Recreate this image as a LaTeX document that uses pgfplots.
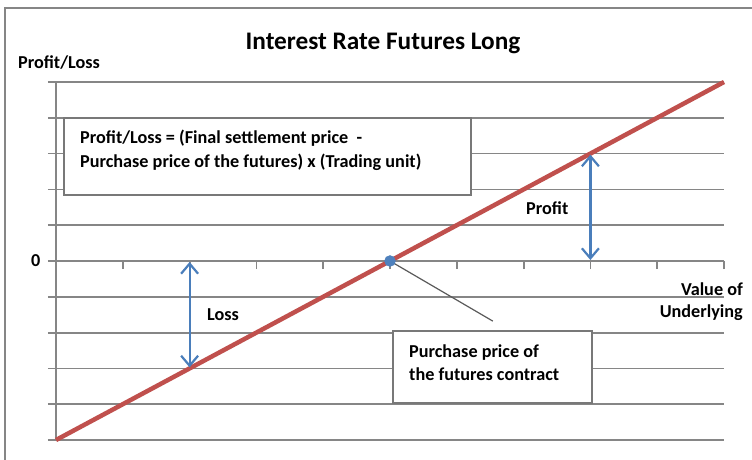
\documentclass[border=0pt]{standalone}
\usepackage{pgfplots}
\pgfplotsset{compat=1.18}
\usepackage{fontspec}
\setmainfont{Carlito}
\usetikzlibrary{arrows.meta}
\definecolor{gridgray}{RGB}{134,134,134}
\definecolor{boxgray}{RGB}{120,120,120}
\definecolor{redline}{RGB}{192,80,77}
\definecolor{bluearrow}{RGB}{74,126,187}
\definecolor{bluedot}{RGB}{79,129,189}
\definecolor{connector}{RGB}{90,90,90}
\newcommand{\bodyfont}{\fontsize{18.2}{21}\selectfont\bfseries}
\begin{document}
\begin{tikzpicture}[x=1pt,y=1pt]
\useasboundingbox (0,0) rectangle (752,459);
\fill[white] (0,0) rectangle (752,459);
\draw[gridgray, line width=1.8pt] (5,-2) -- (5,451) -- (754,451);
\begin{axis}[
  at={(56pt,19pt)}, anchor=south west,
  scale only axis, width=668pt, height=358pt,
  xmin=0, xmax=10, ymin=-5, ymax=5,
  axis x line=middle, axis y line=left,
  axis line style={gridgray, line width=1.8pt, -},
  xtick={0,...,10}, xticklabels={},
  ytick={-5,...,5}, yticklabels={,,,,,0,,,,,},
  ymajorgrids, grid style={gridgray, line width=1.8pt},
  tick style={gridgray, line width=1.8pt},
  tick align=outside, major tick length=8pt,
  yticklabel style={font=\bodyfont, black, xshift=-4pt},
  clip=false,
]
\addplot[redline, line width=4.5pt] coordinates {(0,-5) (10,5)};
\addplot[bluearrow, line width=2.2pt, {Straight Barb[length=10pt,width=17pt]}-{Straight Barb[length=10pt,width=17pt]}, shorten <=1pt, shorten >=1pt] coordinates {(2,0) (2,-3)};
\addplot[bluearrow, line width=2.2pt, {Straight Barb[length=10pt,width=17pt]}-{Straight Barb[length=10pt,width=17pt]}, shorten <=1pt, shorten >=1pt] coordinates {(8,3) (8,0)};
\addplot[connector, line width=1.2pt] coordinates {(5,0) (6.54,-1.68)};
\addplot[only marks, mark=*, mark size=5.5pt, bluedot, mark options={draw=bluedot, fill=bluedot}] coordinates {(5,0)};
\end{axis}
% text boxes
\draw[boxgray, line width=1.5pt, fill=white] (64,264) rectangle (471,341);
\node[anchor=base west, inner sep=0pt, font=\bodyfont] at (80,316) {Profit/Loss = (Final settlement price\ \ -};
\node[anchor=base west, inner sep=0pt, font=\bodyfont] at (80,292) {Purchase price of the futures) x (Trading unit)};
\draw[boxgray, line width=1.5pt, fill=white] (393,56) rectangle (592,128);
\node[anchor=base west, inner sep=0pt, font=\bodyfont] at (409,102) {Purchase price of};
\node[anchor=base west, inner sep=0pt, font=\bodyfont] at (409,79) {the futures contract};
% labels
\node[anchor=base, inner sep=0pt, font=\fontsize{25.3}{29}\selectfont\bfseries] at (383,409) {Interest Rate Futures Long};
\node[anchor=base west, inner sep=0pt, font=\bodyfont] at (18,390) {Profit/Loss};
\node[anchor=base west, inner sep=0pt, font=\bodyfont] at (526,245) {Profit};
\node[anchor=base west, inner sep=0pt, font=\bodyfont] at (207,139) {Loss};
\node[anchor=base east, inner sep=0pt, font=\bodyfont] at (743,164) {Value of};
\node[anchor=base east, inner sep=0pt, font=\bodyfont] at (743,142) {Underlying};
\end{tikzpicture}
\end{document}
